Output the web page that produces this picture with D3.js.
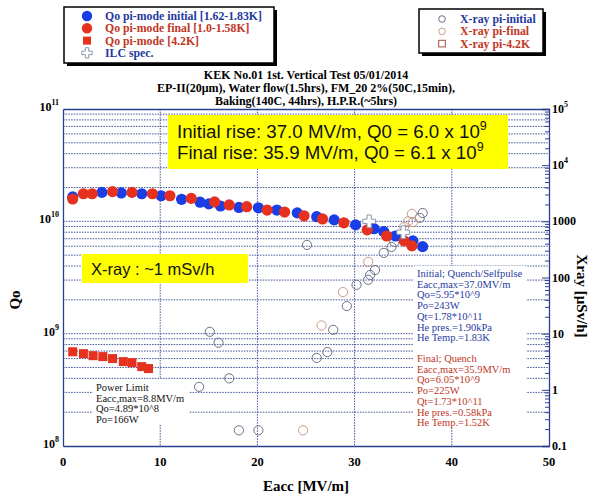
<!DOCTYPE html>
<html>
<head>
<meta charset="utf-8">
<script src="https://cdn.jsdelivr.net/npm/d3@7"></script>
<style>
  body { margin: 0; background: #fff; }
  svg text { font-family: "Liberation Serif", "Times New Roman", serif; }
  .sans { font-family: "Liberation Sans", Arial, sans-serif !important; }
</style>
</head>
<body>
<svg id="chart" width="594" height="496"></svg>
<script>
// Qo vs Eacc, pi-mode initial (1.62-1.83K)
var qInitE = [1.0, 4.0, 6.0, 8.1, 10.1, 12.2, 14.1, 15.0, 16.2, 18.1, 20.1, 22.0, 24.1, 26.1, 27.9, 30.1, 32.0, 33.0, 34.2, 36.0, 37.0];
var qInitQ = [1.65e10, 1.81e10, 1.79e10, 1.76e10, 1.69e10, 1.57e10, 1.48e10, 1.43e10, 1.37e10, 1.33e10, 1.32e10, 1.26e10, 1.19e10, 1.10e10, 1.03e10, 9.3e9, 8.6e9, 8.1e9, 7.4e9, 6.7e9, 5.95e9];
// pi-mode final (1.0-1.58K)
var qFinE = [1.0, 2.1, 3.0, 5.1, 7.1, 9.2, 11.0, 13.2, 15.6, 17.1, 18.9, 21.0, 22.8, 24.8, 26.7, 28.9, 31.3, 33.3, 35.1, 35.9];
var qFinQ = [1.58e10, 1.76e10, 1.76e10, 1.84e10, 1.81e10, 1.76e10, 1.69e10, 1.60e10, 1.49e10, 1.40e10, 1.35e10, 1.26e10, 1.21e10, 1.12e10, 1.05e10, 9.7e9, 8.4e9, 7.4e9, 6.7e9, 6.05e9];
// pi-mode 4.2K
var q42E = [1.0, 2.1, 3.1, 4.1, 5.1, 6.2, 7.1, 8.1, 8.8];
var q42Q = [6.9e8, 6.64e8, 6.37e8, 6.25e8, 6.0e8, 5.64e8, 5.52e8, 5.09e8, 4.89e8];
// ILC spec
var ilcE = [31.5, 35.0];
var ilcQ = [1e10, 8e9];
// X-ray [uSv/h]
var xrInitE = [14.0, 15.1, 16.0, 17.1, 18.1, 20.1, 25.1, 26.1, 27.2, 27.8, 29.2, 30.2, 31.4, 31.6, 32.1, 33.0, 33.8, 34.1, 36.7, 37.0];
var xrInitD = [1.13, 10.8, 6.9, 1.6, 0.19, 0.19, 380, 3.7, 4.7, 11.7, 31, 74, 91, 111, 136, 274, 350, 430, 1150, 1410];
var xrFinE = [24.7, 26.6, 28.8, 31.4, 33.3, 35.1, 35.5, 36.0, 35.9];
var xrFinD = [0.19, 14, 55, 190, 550, 800, 1000, 970, 1360];

var xTicks = [0, 10, 20, 30, 40, 50];
var qTicks = [1e8, 1e9, 1e10, 1e11];
var qExp = ["8", "9", "10", "11"];
var xrTicks = [0.1, 1, 10, 100, 1000, 1e4, 1e5];
var xrLabels = ["0.1", "1", "10", "100", "1000", "10", "10"];
var xrSup = ["", "", "", "", "", "4", "5"];

var titleLines = ["KEK No.01 1st. Vertical Test 05/01/2014",
  "EP-II(20\u03bcm), Water flow(1.5hrs), FM_20 2%(50C,15min),",
  "Baking(140C, 44hrs), H.P.R.(~5hrs)"];
var initNote = ["Initial; Quench/Selfpulse", "Eacc,max=37.0MV/m", "Qo=5.95*10^9", "Po=243W",
  "Qt=1.78*10^11", "He pres.=1.90kPa", "He Temp.=1.83K"];
var finNote = ["Final; Quench", "Eacc,max=35.9MV/m", "Qo=6.05*10^9", "Po=225W",
  "Qt=1.73*10^11", "He pres.=0.58kPa", "He Temp.=1.52K"];
var powerNote = ["Power Limit", "Eacc,max=8.8MV/m", "Qo=4.89*10^8", "Po=166W"];

var BLUE = "#1a3ee6", RED = "#e5311d", NAVY = "#2c3f8e", TXTBLUE = "#1f3a9e", TXTRED = "#c0361f";

var svg = d3.select("#chart");
var pL = 63, pR = 549, pT = 109, pB = 446;

var x = d3.scaleLinear().domain([0, 50]).range([pL, pR]);
var yQ = d3.scaleLog().domain([1e8, 1e11]).range([pB, pT]);
var yX = d3.scaleLog().domain([0.1, 1e5]).range([pB, pT]);

// grid
var grid = svg.append("g");
var minorQ = [];
[1e8, 1e9, 1e10].forEach(function (d) {
  for (var k = 2; k <= 9; k++) minorQ.push(d * k);
});
grid.selectAll("line.h").data(minorQ.concat([1e9, 1e10])).enter().append("line")
  .attr("x1", pL).attr("x2", pR)
  .attr("y1", function (d) { return yQ(d); }).attr("y2", function (d) { return yQ(d); })
  .attr("stroke", NAVY).attr("stroke-width", 0.9).attr("stroke-dasharray", "1.5,1.2");
grid.selectAll("line.v").data([10, 20, 30, 40]).enter().append("line")
  .attr("x1", function (d) { return x(d); }).attr("x2", function (d) { return x(d); })
  .attr("y1", pT).attr("y2", pB)
  .attr("stroke", NAVY).attr("stroke-width", 0.9).attr("stroke-dasharray", "1.5,1.2");

// white boxes behind notes
svg.append("rect").attr("x", 414).attr("y", 266).attr("width", 112).attr("height", 162).attr("fill", "#fff");
svg.append("rect").attr("x", 93).attr("y", 379).attr("width", 96).attr("height", 45).attr("fill", "#fff");

// axes frame
svg.append("g").attr("transform", "translate(" + pL + ",0)")
  .call(d3.axisLeft(yQ).tickValues(qTicks).tickSize(0).tickFormat(""));
svg.append("g").attr("transform", "translate(0," + pB + ")")
  .call(d3.axisBottom(x).tickValues(xTicks).tickSize(0).tickFormat(""));
svg.append("g").attr("transform", "translate(0," + pT + ")")
  .call(d3.axisTop(x).tickValues([]).tickSize(0));
var minorX = [];
[0.1, 1, 10, 100, 1000, 1e4].forEach(function (d) {
  for (var k = 2; k <= 9; k++) minorX.push(d * k);
});
svg.append("g").attr("transform", "translate(" + pR + ",0)")
  .call(d3.axisLeft(yX).tickValues(xrTicks).tickSize(7).tickFormat(""));
svg.append("g").attr("transform", "translate(" + pR + ",0)")
  .call(d3.axisLeft(yX).tickValues(minorX).tickSize(4).tickFormat(""))
  .select(".domain").remove();
svg.selectAll(".domain").attr("stroke", NAVY).attr("stroke-width", 1.3);
svg.selectAll(".tick line").attr("stroke", NAVY);

// tick labels
svg.append("g").selectAll("text").data(xTicks).enter().append("text")
  .attr("x", function (d) { return x(d); }).attr("y", 466)
  .attr("text-anchor", "middle").attr("font-size", 12.5).attr("font-weight", "bold")
  .text(function (d) { return d; });

var ql = svg.append("g").selectAll("text").data(qTicks).enter().append("text")
  .attr("x", 59).attr("y", function (d) { return yQ(d) + 2; })
  .attr("text-anchor", "end").attr("font-size", 12).attr("font-weight", "bold");
ql.append("tspan").text("10");
ql.append("tspan").attr("dy", -6).attr("font-size", 8).text(function (d, i) { return qExp[i]; });

var xl = svg.append("g").selectAll("text").data(xrTicks).enter().append("text")
  .attr("x", 552).attr("y", function (d) { return yX(d) + 4; })
  .attr("font-size", 12).attr("font-weight", "bold");
xl.append("tspan").text(function (d, i) { return xrLabels[i]; });
xl.append("tspan").attr("dy", -6).attr("font-size", 8).text(function (d, i) { return xrSup[i]; });

// axis titles
svg.append("text").attr("x", 306).attr("y", 491).attr("text-anchor", "middle")
  .attr("font-size", 15).attr("font-weight", "bold").text("Eacc [MV/m]");
svg.append("text").attr("transform", "translate(20,300) rotate(-90)").attr("text-anchor", "middle")
  .attr("font-size", 15).attr("font-weight", "bold").text("Qo");
svg.append("text").attr("transform", "translate(577,296) rotate(90)").attr("text-anchor", "middle")
  .attr("font-size", 15).attr("font-weight", "bold").text("Xray [\u03bcSv/h]");

// title
svg.append("g").selectAll("text").data(titleLines).enter().append("text")
  .attr("x", 306).attr("y", function (d, i) { return 79 + i * 13; })
  .attr("text-anchor", "middle").attr("font-size", 12).attr("font-weight", "bold")
  .text(function (d) { return d; });

// yellow boxes
svg.append("rect").attr("x", 168).attr("y", 115).attr("width", 340).attr("height", 54).attr("fill", "#ffff00");
var riseLines = [["Initial rise: 37.0 MV/m, Q0 = 6.0 x 10", "9"], ["Final rise: 35.9 MV/m, Q0 = 6.1 x 10", "9"]];
var rt = svg.append("g").selectAll("text").data(riseLines).enter().append("text")
  .attr("class", "sans").attr("x", 177).attr("y", function (d, i) { return 138 + i * 21; })
  .attr("font-size", 18.7).attr("fill", "#111");
rt.append("tspan").text(function (d) { return d[0]; });
rt.append("tspan").attr("dy", -8).attr("font-size", 12.5).text(function (d) { return d[1]; });

svg.append("rect").attr("x", 82).attr("y", 254).attr("width", 166).attr("height", 29).attr("fill", "#ffff00");
svg.append("text").attr("class", "sans").attr("x", 91).attr("y", 275)
  .attr("font-size", 16.5).attr("fill", "#111").text("X-ray : ~1 mSv/h");

// notes
svg.append("g").selectAll("text").data(initNote).enter().append("text")
  .attr("x", 417).attr("y", function (d, i) { return 277 + i * 10.7; })
  .attr("font-size", 10.5).attr("fill", TXTBLUE).text(function (d) { return d; });
svg.append("g").selectAll("text").data(finNote).enter().append("text")
  .attr("x", 417).attr("y", function (d, i) { return 362 + i * 10.7; })
  .attr("font-size", 10.5).attr("fill", TXTRED).text(function (d) { return d; });
svg.append("g").selectAll("text").data(powerNote).enter().append("text")
  .attr("x", 96).attr("y", function (d, i) { return 391 + i * 10.6; })
  .attr("font-size", 10.5).attr("fill", "#111").text(function (d) { return d; });

// x-ray points
function xrRows(E, D) { return E.map(function (e, i) { return { e: e, v: D[i] }; }); }
svg.append("g").selectAll("circle").data(xrRows(xrInitE, xrInitD)).enter().append("circle")
  .attr("cx", function (d) { return x(d.e); }).attr("cy", function (d) { return yX(d.v); })
  .attr("r", 4.6).attr("fill", "none").attr("stroke", "#6b7286").attr("stroke-width", 1);
svg.append("g").selectAll("circle").data(xrRows(xrFinE, xrFinD)).enter().append("circle")
  .attr("cx", function (d) { return x(d.e); }).attr("cy", function (d) { return yX(d.v); })
  .attr("r", 4.6).attr("fill", "none").attr("stroke", "#c99a86").attr("stroke-width", 1);

// Qo points
function qRows(E, Q) { return E.map(function (e, i) { return { e: e, q: Q[i] }; }); }
svg.append("g").selectAll("rect").data(qRows(q42E, q42Q)).enter().append("rect")
  .attr("x", function (d) { return x(d.e) - 4.5; }).attr("y", function (d) { return yQ(d.q) - 4.5; })
  .attr("width", 9).attr("height", 9).attr("fill", RED);
svg.append("g").selectAll("circle").data(qRows(qInitE, qInitQ)).enter().append("circle")
  .attr("cx", function (d) { return x(d.e); }).attr("cy", function (d) { return yQ(d.q); })
  .attr("r", 5.6).attr("fill", BLUE);
svg.append("g").selectAll("circle").data(qRows(qFinE, qFinQ)).enter().append("circle")
  .attr("cx", function (d) { return x(d.e); }).attr("cy", function (d) { return yQ(d.q); })
  .attr("r", 5.6).attr("fill", RED);
var cross = d3.symbol().type(d3.symbolCross).size(90);
svg.append("g").selectAll("path").data(qRows(ilcE, ilcQ)).enter().append("path")
  .attr("transform", function (d) { return "translate(" + x(d.e) + "," + yQ(d.q) + ")"; })
  .attr("d", cross).attr("fill", "#fff").attr("stroke", "#8a96b0").attr("stroke-width", 1);

// legends
function legendBox(x0, y0, w, h) {
  svg.append("rect").attr("x", x0 + 3).attr("y", y0 + 3).attr("width", w).attr("height", h).attr("fill", "#000");
  svg.append("rect").attr("x", x0).attr("y", y0).attr("width", w).attr("height", h)
    .attr("fill", "#fff").attr("stroke", "#000").attr("stroke-width", 1.5);
}
legendBox(64, 7, 210, 56);
var leg1 = [
  { t: "Qo pi-mode initial [1.62-1.83K]", c: TXTBLUE, m: "circle", f: BLUE },
  { t: "Qo pi-mode final [1.0-1.58K]", c: TXTRED, m: "circle", f: RED },
  { t: "Qo pi-mode [4.2K]", c: TXTRED, m: "square", f: RED },
  { t: "ILC spec.", c: TXTBLUE, m: "cross", f: "#fff" }
];
var l1 = svg.append("g").selectAll("g").data(leg1).enter().append("g")
  .attr("transform", function (d, i) { return "translate(87," + (16 + i * 12.3) + ")"; });
l1.each(function (d) {
  var g = d3.select(this);
  if (d.m === "circle") g.append("circle").attr("r", 5.2).attr("fill", d.f);
  else if (d.m === "square") g.append("rect").attr("x", -4).attr("y", -4).attr("width", 8).attr("height", 8).attr("fill", d.f);
  else g.append("path").attr("d", d3.symbol().type(d3.symbolCross).size(60)).attr("fill", "#fff").attr("stroke", "#8a96b0");
});
l1.append("text").attr("x", 18).attr("y", 4).attr("font-size", 11.8).attr("font-weight", "bold")
  .attr("fill", function (d) { return d.c; }).text(function (d) { return d.t; });

legendBox(419, 9, 124, 44);
var leg2 = [
  { t: "X-ray pi-initial", c: TXTBLUE, m: "circle", s: "#6b7286" },
  { t: "X-ray pi-final", c: TXTRED, m: "circle", s: "#c99a86" },
  { t: "X-ray pi-4.2K", c: TXTRED, m: "square", s: "#a0503c" }
];
var l2 = svg.append("g").selectAll("g").data(leg2).enter().append("g")
  .attr("transform", function (d, i) { return "translate(442," + (19 + i * 12.3) + ")"; });
l2.each(function (d) {
  var g = d3.select(this);
  if (d.m === "circle") g.append("circle").attr("r", 3.3).attr("fill", "none").attr("stroke", d.s);
  else g.append("rect").attr("x", -3.3).attr("y", -3.3).attr("width", 6.6).attr("height", 6.6).attr("fill", "none").attr("stroke", d.s);
});
l2.append("text").attr("x", 18).attr("y", 4).attr("font-size", 11.8).attr("font-weight", "bold")
  .attr("fill", function (d) { return d.c; }).text(function (d) { return d.t; });
</script>
</body>
</html>
